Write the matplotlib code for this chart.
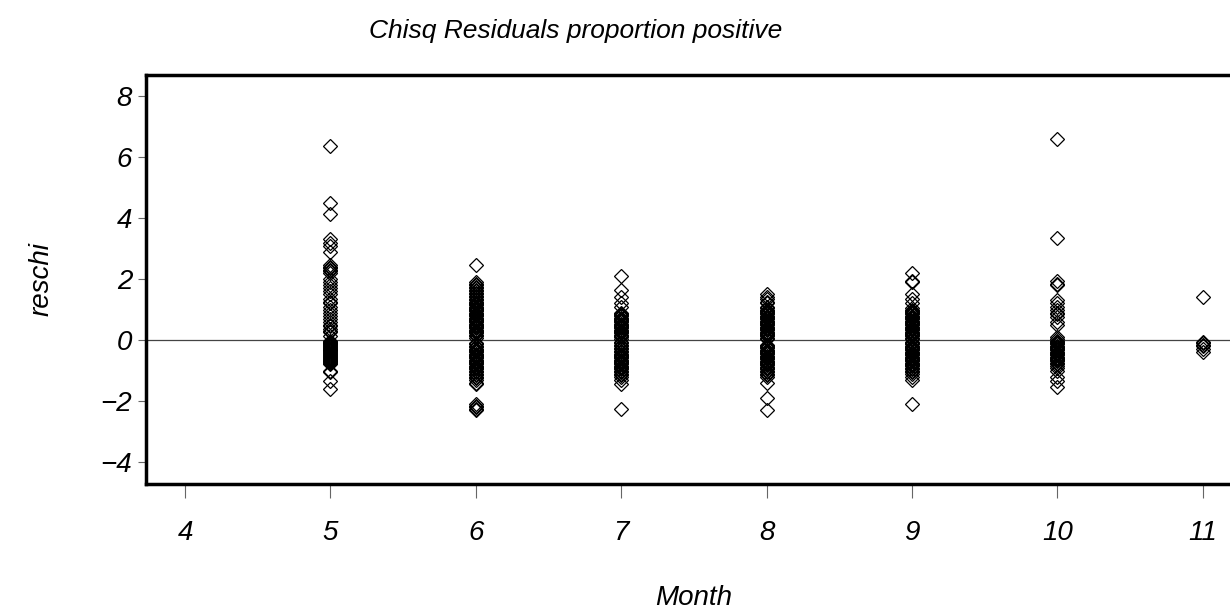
import matplotlib
matplotlib.use("Agg")
import matplotlib.pyplot as plt

# Chi-square residuals by month
res_may = [6.35, 4.5, 4.15, 3.3, 3.2, 3.1, 2.9, 2.45, 2.4, 2.35, 2.3, 2.25, 2.2, 2.0,
           1.9, 1.8, 1.7, 1.6, 1.5, 1.35, 1.25, 1.2, 1.1, 1.0, 0.9, 0.8, 0.7, 0.6,
           0.5, 0.45, 0.35, 0.3, 0.25, 0.15,
           -0.02, -0.05, -0.08, -0.1, -0.13, -0.16, -0.19, -0.22, -0.25, -0.28,
           -0.31, -0.34, -0.37, -0.4, -0.43, -0.46, -0.49, -0.52, -0.55, -0.58,
           -0.61, -0.64, -0.67, -0.7, -0.73, -0.76, -0.8, -1.0, -1.05, -1.35, -1.6]
res_jun = [2.45, 1.9, 1.85, 1.8, 1.75, 1.7, 1.65, 1.6, 1.55, 1.5, 1.45, 1.4, 1.35,
           1.3, 1.26, 1.22, 1.18, 1.14, 1.1, 1.06, 1.02, 0.98, 0.94, 0.9, 0.86,
           0.82, 0.78, 0.74, 0.7, 0.66, 0.62, 0.58, 0.54, 0.5, 0.46, 0.42, 0.38,
           0.34, 0.3, 0.26, 0.22, 0.18, 0.12, 0.06,
           -0.08, -0.14, -0.2, -0.24, -0.28, -0.32, -0.36, -0.4, -0.44, -0.48,
           -0.52, -0.56, -0.6, -0.64, -0.68, -0.72, -0.76, -0.8, -0.84, -0.88,
           -0.92, -0.96, -1.0, -1.05, -1.1, -1.15, -1.2, -1.25, -1.3, -1.4, -1.45,
           -2.1, -2.15, -2.2, -2.25, -2.3]
res_jul = [2.1, 1.65, 1.4, 1.2, 1.1, 0.9, 0.86, 0.82, 0.78, 0.74, 0.7, 0.66, 0.62,
           0.58, 0.54, 0.5, 0.46, 0.42, 0.38, 0.34, 0.3, 0.26, 0.22, 0.18, 0.14,
           0.1, 0.05, -0.05, -0.1, -0.15, -0.2, -0.25, -0.3, -0.35, -0.4, -0.44,
           -0.48, -0.52, -0.56, -0.6, -0.64, -0.68, -0.72, -0.76, -0.8, -0.84,
           -0.88, -0.92, -0.96, -1.0, -1.05, -1.1, -1.15, -1.2, -1.3, -1.45, -2.25]
res_aug = [1.5, 1.4, 1.35, 1.25, 1.2, 1.1, 1.05, 1.0, 0.96, 0.92, 0.88, 0.84, 0.8,
           0.76, 0.72, 0.68, 0.64, 0.6, 0.56, 0.52, 0.48, 0.44, 0.4, 0.36, 0.32,
           0.28, 0.24, 0.2, 0.16, 0.12, 0.08, 0.05,
           -0.15, -0.19, -0.23, -0.27, -0.31, -0.35, -0.39, -0.43, -0.47, -0.51,
           -0.55, -0.59, -0.63, -0.67, -0.71, -0.75, -0.79, -0.83, -0.87, -0.91,
           -0.95, -1.0, -1.05, -1.1, -1.15, -1.2, -1.4, -1.9, -2.3]
res_sep = [2.2, 1.95, 1.9, 1.5, 1.35, 1.2, 1.05, 1.0, 0.96, 0.92, 0.88, 0.84, 0.8,
           0.76, 0.72, 0.68, 0.64, 0.6, 0.56, 0.52, 0.48, 0.44, 0.4, 0.36, 0.32,
           0.28, 0.24, 0.2, 0.16, 0.12, 0.08, 0.04,
           -0.06, -0.1, -0.14, -0.18, -0.22, -0.26, -0.3, -0.34, -0.38, -0.42,
           -0.46, -0.5, -0.54, -0.58, -0.62, -0.66, -0.7, -0.74, -0.78, -0.82,
           -0.86, -0.9, -0.95, -1.0, -1.05, -1.1, -1.2, -1.3, -2.1]
res_oct = [6.6, 3.35, 1.95, 1.85, 1.8, 1.3, 1.2, 1.1, 1.0, 0.9, 0.85, 0.75, 0.6,
           0.5, 0.1, 0.05, -0.02, -0.06, -0.1, -0.14, -0.18, -0.22, -0.26, -0.3,
           -0.34, -0.38, -0.42, -0.46, -0.5, -0.54, -0.58, -0.62, -0.66, -0.7,
           -0.75, -0.8, -0.85, -0.9, -1.0, -1.2, -1.35, -1.55]
res_nov = [1.4, -0.05, -0.1, -0.15, -0.2, -0.3, -0.4]

months = [5, 6, 7, 8, 9, 10, 11]
residuals = [res_may, res_jun, res_jul, res_aug, res_sep, res_oct, res_nov]

x_ticks = [4, 5, 6, 7, 8, 9, 10, 11]
y_ticks = [-4, -2, 0, 2, 4, 6, 8]
y_labels = ["\u22124", "\u22122", "0", "2", "4", "6", "8"]

plt.rcParams["font.family"] = ["Liberation Sans", "DejaVu Sans"]

fig = plt.figure(figsize=(12.3, 6.14), dpi=100)
ax = fig.add_axes([0.1187, 0.2117, 0.89, 0.666])

for m, vals in zip(months, residuals):
    ax.plot([m] * len(vals), vals, linestyle="none", marker="D", markersize=7,
            markerfacecolor="none", markeredgecolor="black", markeredgewidth=0.9)

ax.axhline(0, color="#444444", linewidth=0.9, zorder=0)

ax.set_xlim(3.7316, 11.26)
ax.set_ylim(-4.72, 8.69)
ax.set_xticks(x_ticks)
ax.set_xticklabels([str(t) for t in x_ticks], fontsize=20, style="italic")
ax.set_yticks(y_ticks)
ax.set_yticklabels(y_labels, fontsize=20, style="italic")

ax.tick_params(axis="x", direction="out", length=10, width=0.8, color="#666666", pad=16)
ax.tick_params(axis="y", direction="out", length=6, width=0.8, color="#666666", pad=4)

for side in ["left", "bottom", "top"]:
    ax.spines[side].set_linewidth(2.5)
ax.spines["right"].set_visible(False)

ax.set_xlabel("Month", fontsize=20, style="italic", labelpad=28)
ax.set_ylabel("reschi", fontsize=20, style="italic", labelpad=33)
fig.text(0.468, 0.95, "Chisq Residuals proportion positive", fontsize=19,
         style="italic", ha="center", va="center")

fig.savefig("out.png", dpi=100)
